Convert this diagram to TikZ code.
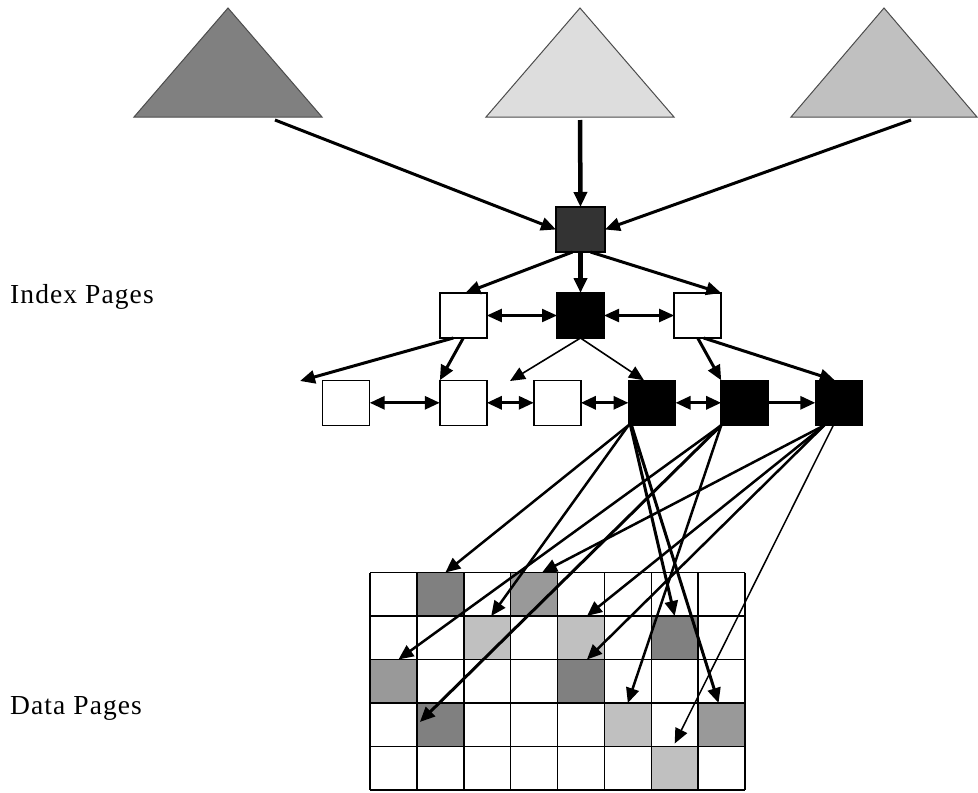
\documentclass[tikz,border=0pt]{standalone}
\usepackage{fontspec}
\setmainfont{Liberation Serif}
\usetikzlibrary{arrows.meta}
\definecolor{gdark}{HTML}{808080}
\definecolor{gmid}{HTML}{999999}
\definecolor{glight}{HTML}{C0C0C0}
\definecolor{tmid}{HTML}{DDDDDD}
\definecolor{rootc}{HTML}{333333}
\tikzset{hd/.tip={Triangle[length=15pt,width=13pt]}}
\begin{document}
\begin{tikzpicture}[x=1pt,y=-1pt,
  box/.style={draw=black,line width=1.5pt,minimum width=47pt,minimum height=45pt,inner sep=0pt,outer sep=0pt},
  wbox/.style={box,fill=white},
  bbox/.style={box,fill=black},
  cellbox/.style={minimum width=46.875pt,minimum height=43.5pt,inner sep=0pt,outer sep=0pt},
  gridl/.style={line width=1.5pt,black},
  tri/.style={draw=black!70,line width=1pt},
  arrA/.style={-hd,line width=3pt},
  arrB/.style={-hd,line width=4.5pt},
  arrC/.style={-hd,line width=1.6pt},
  arrD/.style={-hd,line width=2.5pt},
  arrE/.style={-hd,line width=1.5pt},
  dbl/.style={hd-hd,line width=2.2pt},
  lbl/.style={anchor=base west,inner sep=0pt,font=\fontsize{27.5}{30}\selectfont\addfontfeature{LetterSpace=4}}
]
\useasboundingbox (0,0) rectangle (978,793);

% triangles
\draw[tri,fill=gdark] (134,117) -- (228,8) -- (322,117) -- cycle;
\draw[tri,fill=tmid] (486,117) -- (580,8) -- (674,117) -- cycle;
\draw[tri,fill=glight] (791,117) -- (884,8) -- (977,117) -- cycle;
\coordinate (t1) at (275,120);
\coordinate (t2) at (580,120);
\coordinate (t3) at (911,120);

% labels
\node[lbl] (idx) at (10,303) {Index Pages};
\node[lbl] (dat) at (10,714) {Data Pages};

% index nodes
\node[box,fill=rootc,minimum width=49pt] (r) at (580.5,229.5) {};
\node[wbox] (l1a) at (463.3,315.5) {};
\node[bbox] (l1b) at (580.5,315.5) {};
\node[wbox] (l1c) at (697.7,315.5) {};
\node[wbox] (l2a) at (346.2,402.8) {};
\node[wbox] (l2b) at (463.3,402.8) {};
\node[wbox] (l2c) at (557.3,402.8) {};
\node[bbox] (l2d) at (652,402.8) {};
\node[bbox] (l2e) at (744.7,402.8) {};
\node[bbox] (l2f) at (838.8,402.8) {};
\coordinate (fl) at (300,381);
\coordinate (em) at (510,381);

% triangles to root
\draw[arrA] (t1) -- (r.west);
\draw[arrB] (t2) -- (r.north);
\draw[arrA] (t3) -- (r.east);

% root to level 1
\draw[arrA] ([xshift=-8pt]r.south) -- ([xshift=2pt]l1a.north);
\draw[arrB] (r.south) -- (l1b.north);
\draw[arrA] ([xshift=10pt]r.south) -- (l1c.north east);
\draw[dbl] (l1a.east) -- (l1b.west);
\draw[dbl] (l1b.east) -- (l1c.west);

% level 1 to level 2
\draw[arrA] ([xshift=-10pt]l1a.south) -- (fl);
\draw[arrA] (l1a.south) -- (l2b.north west);
\draw[arrC] (l1b.south) -- (em);
\draw[arrC] (l1b.south) -- ([xshift=-8pt]l2d.north);
\draw[arrA] (l1c.south) -- (l2e.north west);
\draw[arrA] ([xshift=6pt]l1c.south) -- ([xshift=-4pt]l2f.north);

% level 2 links
\draw[dbl,line width=3pt] (l2a.east) -- (l2b.west);
\draw[dbl,line width=3pt] (l2b.east) -- (l2c.west);
\draw[dbl,line width=3pt] (l2c.east) -- (l2d.west);
\draw[dbl,line width=3pt] (l2d.east) -- (l2e.west);
\draw[arrA] (l2e.east) -- (l2f.west);

% data grid
\foreach \r in {0,...,4} {
  \foreach \c in {0,...,7} {
    \node[cellbox] (g\r\c) at ({370+46.875*(\c+0.5)},{572.5+43.5*(\r+0.5)}) {};
  }
}
\foreach \n/\f in {01/gdark,03/gmid,12/glight,14/glight,16/gdark,20/gmid,24/gdark,31/gdark,35/glight,37/gmid,46/glight} {
  \fill[\f] (g\n.north west) rectangle (g\n.south east);
}
\foreach \c in {0,...,8} {
  \draw[gridl] ({370+46.875*\c},572.5) -- ({370+46.875*\c},790);
}
\foreach \r in {0,...,5} {
  \draw[gridl] (370,{572.5+43.5*\r}) -- (745,{572.5+43.5*\r});
}

% level 2 to data pages
\draw[arrD] (l2d.south west) -- ([xshift=5pt]g01.north);
\draw[arrD] (l2d.south west) -- ([xshift=4pt]g12.north);
\draw[arrD,line width=3pt] ([xshift=2pt]l2d.south west) -- (g16.north);
\draw[arrD,line width=3pt] ([xshift=3pt]l2d.south west) -- ([xshift=-3pt]g37.north);
\draw[arrD] (l2e.south west) -- ([xshift=5pt]g20.north);
\draw[arrD,line width=3pt] (l2e.south west) -- ([xshift=3pt,yshift=-19pt]g31.north west);
\draw[arrD] (l2e.south west) -- (g35.north);
\draw[arrD] ([xshift=9pt]l2f.south west) -- ([xshift=8pt]g03.north);
\draw[arrD] ([xshift=9pt]l2f.south west) -- ([xshift=6pt]g14.north);
\draw[arrD] ([xshift=9pt]l2f.south west) -- ([xshift=6pt]g24.north);
\draw[arrE] ([xshift=18pt]l2f.south west) -- ([yshift=3pt]g46.north);
\end{tikzpicture}
\end{document}
